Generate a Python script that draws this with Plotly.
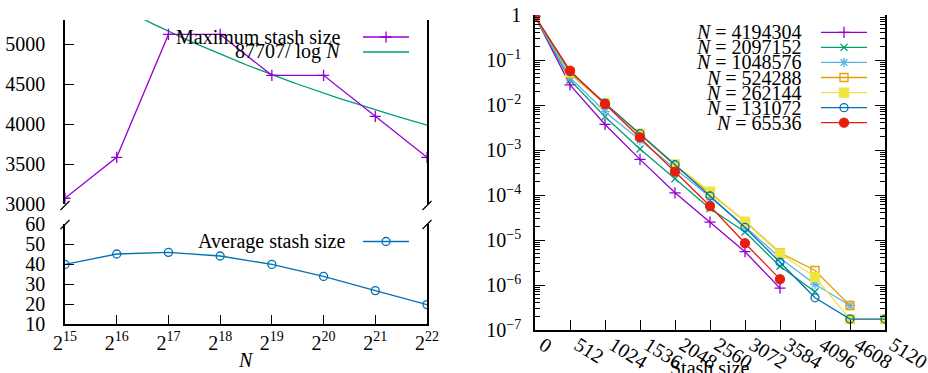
import plotly.graph_objects as go

W, H = 928, 373

# ---------------- data: left panel ----------------
n_exp = [15, 16, 17, 18, 19, 20, 21, 22]
n_ticktext = ["2<sup>%d</sup>" % e for e in n_exp]
max_stash = [3072, 3584, 5120, 5120, 4608, 4608, 4096, 3584]
avg_stash = [39.8, 45.0, 45.8, 44.0, 39.8, 33.8, 26.7, 19.7]
fit_const = 87707  # curve 87707 / log2(N)

# ---------------- data: right panel ----------------
stash_sizes = [0, 512, 1024, 1536, 2048, 2560, 3072, 3584, 4096, 4608, 5120]
series_names = ["4194304", "2097152", "1048576", "524288", "262144", "131072", "65536"]
p_4194304 = [0.93, 0.028, 0.0037, 0.00062, 0.000112, 2.5e-5, 5.5e-6, 8.5e-7]
p_2097152 = [0.93, 0.036, 0.0055, 0.00105, 0.00023, 5.0e-5, 1.5e-5, 2.6e-6, 7.1e-7]
p_1048576 = [0.93, 0.041, 0.0071, 0.00166, 0.00040, 9.0e-5, 2.0e-5, 4.0e-6, 1.04e-6, 3.5e-7]
p_524288 = [0.93, 0.050, 0.0105, 0.0022, 0.00045, 1.10e-4, 2.6e-5, 5.2e-6, 2.1e-6, 3.5e-7]
p_262144 = [0.93, 0.053, 0.0110, 0.0023, 0.00048, 1.18e-4, 2.5e-5, 5.0e-6, 1.5e-6, 1.75e-7, 1.75e-7]
p_131072 = [0.93, 0.055, 0.0110, 0.0023, 0.00047, 9.5e-5, 1.9e-5, 3.2e-6, 5.2e-7, 1.75e-7, 1.75e-7]
p_65536 = [0.93, 0.058, 0.0105, 0.0019, 0.00033, 5.7e-5, 8.5e-6, 1.35e-6]
series_vals = [p_4194304, p_2097152, p_1048576, p_524288, p_262144, p_131072, p_65536]
y_tickvals = [1e-7, 1e-6, 1e-5, 1e-4, 1e-3, 1e-2, 1e-1, 1]
y_ticktext = ["10<sup>\u22127</sup>", "10<sup>\u22126</sup>", "10<sup>\u22125</sup>",
              "10<sup>\u22124</sup>", "10<sup>\u22123</sup>", "10<sup>\u22122</sup>",
              "10<sup>\u22121</sup>", "1"]

# ---------------- styles ----------------
colors = ["#9400d3", "#009e73", "#56b4e9", "#e69f00", "#f0e442", "#0072b2", "#e51e10"]
symbols = ["cross-thin-open", "x-thin-open", "asterisk-open", "square-open", "square",
           "circle-open", "circle"]
msizes = [8, 7, 8, 8, 9, 8, 9]
FONT = "Liberation Serif"
FS = 20

def px(x):
    return x / W

def py(y):
    return 1 - y / H

fig = go.Figure()

# ---- left top: maximum stash size + fit ----
fit_x = [15 + i * 0.05 for i in range(141)]
fit_y = [fit_const / v for v in fit_x]
fig.add_trace(go.Scatter(x=fit_x, y=fit_y, mode="lines", xaxis="x", yaxis="y",
                         line=dict(color="#009e73", width=1.3), showlegend=False))
fig.add_trace(go.Scatter(x=n_exp, y=max_stash, mode="lines+markers", xaxis="x", yaxis="y",
                         line=dict(color="#9400d3", width=1.3),
                         marker=dict(symbol="cross-thin-open", size=8,
                                     line=dict(color="#9400d3", width=1.3)),
                         showlegend=False))
# ---- left bottom: average ----
fig.add_trace(go.Scatter(x=n_exp, y=avg_stash, mode="lines+markers", xaxis="x", yaxis="y2",
                         line=dict(color="#0072b2", width=1.3),
                         marker=dict(symbol="circle-open", size=8,
                                     line=dict(color="#0072b2", width=1.3)),
                         showlegend=False))

# ---- right panel ----
for name, vals, c, s, ms in zip(series_names, series_vals, colors, symbols, msizes):
    fig.add_trace(go.Scatter(x=stash_sizes[:len(vals)], y=vals, mode="lines+markers",
                             xaxis="x2", yaxis="y3",
                             line=dict(color=c, width=1.3),
                             marker=dict(symbol=s, size=ms, color=c,
                                         line=dict(color=c, width=1.3)),
                             showlegend=False))

# ---- custom legends (text left, sample right) on a pixel overlay axis ----
ann = []
def legend_row(text, ytxt, xr, x0, x1, color, symbol, size, marker=True):
    ann.append(dict(text=text, x=px(xr), y=py(ytxt), xref="paper", yref="paper",
                    xanchor="right", yanchor="middle", showarrow=False,
                    font=dict(family=FONT, size=FS, color="black")))
    fig.add_trace(go.Scatter(x=[x0, x1], y=[ytxt, ytxt], mode="lines", xaxis="x4", yaxis="y4",
                             line=dict(color=color, width=1.3), showlegend=False))
    if marker:
        fig.add_trace(go.Scatter(x=[(x0 + x1) / 2], y=[ytxt], mode="markers",
                                 xaxis="x4", yaxis="y4",
                                 marker=dict(symbol=symbol, size=size, color=color,
                                             line=dict(color=color, width=1.3)),
                                 showlegend=False))

legend_row("Maximum stash size", 37, 343, 363, 409, "#9400d3", "cross-thin-open", 8)
legend_row("87707/ log <i>N</i>", 52, 343, 363, 409, "#009e73", None, 0, marker=False)
legend_row("Average stash size", 241.5, 347, 363, 409, "#0072b2", "circle-open", 8)
for i, (name, c, s, ms) in enumerate(zip(series_names, colors, symbols, msizes)):
    legend_row("<i>N</i> = " + name, 32.3 + i * 15.07, 804, 821, 867, c, s, ms)

# axis titles
ann.append(dict(text="<i>N</i>", x=px(246), y=py(360), xref="paper", yref="paper",
                xanchor="center", yanchor="middle", showarrow=False,
                font=dict(family=FONT, size=FS, color="black")))
ann.append(dict(text="Stash size", x=px(710), y=py(355), xref="paper", yref="paper",
                xanchor="center", yanchor="top", showarrow=False,
                font=dict(family=FONT, size=FS, color="black")))

# ---- break marks ----
shapes = []
for xb in (65, 427):
    for yb in (205.5, 224.5):
        shapes.append(dict(type="line", xref="paper", yref="paper",
                           x0=px(xb - 4.5), y0=py(yb + 4.5), x1=px(xb + 4.5), y1=py(yb - 4.5),
                           line=dict(color="black", width=1.3)))

axis_common = dict(showgrid=False, zeroline=False, showline=True, linecolor="black",
                   linewidth=1.5, ticks="inside", tickcolor="black", automargin=False,
                   tickfont=dict(family=FONT, size=FS, color="black"))

fig.update_layout(
    width=W, height=H, margin=dict(l=0, r=0, t=0, b=0, pad=0, autoexpand=False),
    paper_bgcolor="white", plot_bgcolor="rgba(0,0,0,0)", showlegend=False,
    xaxis=dict(domain=[px(65), px(427)], range=[15, 22], anchor="y2",
               tickvals=n_exp, ticktext=n_ticktext, ticklen=9, **axis_common),
    yaxis=dict(domain=[py(204), py(20)], range=[3000, 5300], anchor="x",
               tickvals=[3000, 3500, 4000, 4500, 5000], ticklen=9, mirror=True,
               ticklabelstandoff=14, **axis_common),
    yaxis2=dict(domain=[py(324), py(224)], range=[10, 60], anchor="x",
                tickvals=[10, 20, 30, 40, 50, 60], ticklen=9, mirror=True,
                ticklabelstandoff=14, **axis_common),
    xaxis2=dict(domain=[px(535), px(885)], range=[0, 5120], anchor="y3",
                tickvals=stash_sizes, ticklen=10, tickangle=32, ticklabelstandoff=-6,
                ticklabelshift=8, ticklabeloverflow="allow", **axis_common),
    yaxis3=dict(domain=[py(330), py(15)], type="log", range=[-7, 0], anchor="x2",
                tickvals=y_tickvals, ticktext=y_ticktext, ticklen=10, mirror="allticks",
                ticklabelstandoff=8,
                minor=dict(ticks="inside", ticklen=5, tickcolor="black",
                           tickvals=[m * 10 ** k for k in range(-7, 0) for m in range(2, 10)]),
                **axis_common),
    xaxis4=dict(domain=[0, 1], range=[0, W], visible=False, anchor="y4", automargin=False),
    yaxis4=dict(domain=[0, 1], range=[H, 0], visible=False, anchor="x4", automargin=False),
    annotations=ann, shapes=shapes,
)

fig.write_html("out.html", config={"displayModeBar": False},
               post_script="document.body.style.margin='0';document.body.style.padding='0';")
